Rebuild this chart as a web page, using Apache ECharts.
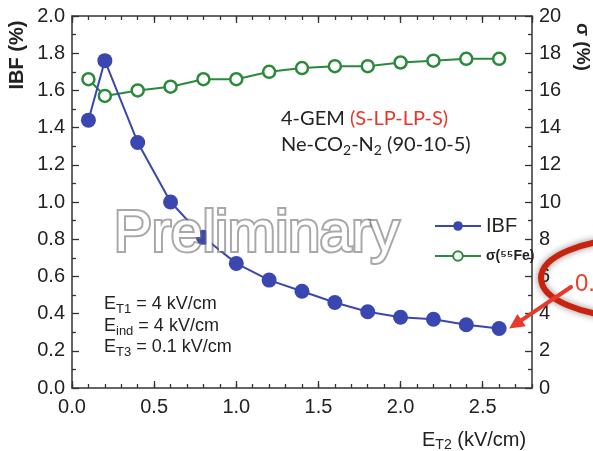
<!DOCTYPE html>
<html>
<head>
<meta charset="utf-8">
<script src="https://cdn.jsdelivr.net/npm/echarts@6/dist/echarts.min.js"></script>
<style>
  html, body { margin: 0; padding: 0; background: #fff; }
  #chart { width: 593px; height: 451px; }
</style>
</head>
<body>
<div id="chart"></div>
<script>
// Transfer field E_T2 (kV/cm)
const fieldT2 = [0.1, 0.2, 0.4, 0.6, 0.8, 1.0, 1.2, 1.4, 1.6, 1.8, 2.0, 2.2, 2.4, 2.6];
// Ion back-flow (%)
const ibf = [1.44, 1.76, 1.32, 1.00, 0.81, 0.67, 0.58, 0.52, 0.46, 0.41, 0.38, 0.37, 0.34, 0.32];
// Energy resolution sigma at the 55Fe peak (%)
const sigma = [16.6, 15.7, 16.0, 16.2, 16.6, 16.6, 17.0, 17.2, 17.3, 17.3, 17.5, 17.6, 17.7, 17.7];

// Axis ranges and tick steps
const xRange = [0, 2.8], xMajor = 0.5, xMinor = 0.1;
const ibfRange = [0, 2.0], ibfStep = 0.2;
const sigmaRange = [0, 20], sigmaStep = 2;

const BLUE = '#3a47b0';
const GREEN = '#2a8a3c';
const AXIS = '#333';
const TXT = '#222';
const SANS = '"Liberation Sans", Arial, sans-serif';

const chart = echarts.init(document.getElementById('chart'), null, { renderer: 'canvas' });

const tickLabel = { fontFamily: SANS, fontSize: 20, color: TXT };

function xAxisDef(pos, step, tickLen, withLabels, withLine) {
  return {
    type: 'value', position: pos, min: xRange[0], max: xRange[1], interval: step,
    axisLine: { show: withLine, onZero: false, lineStyle: { color: AXIS, width: 1.5 } },
    axisTick: { show: true, inside: true, length: tickLen, lineStyle: { color: AXIS, width: 1.3 } },
    axisLabel: withLabels
      ? Object.assign({ show: true, margin: 9, showMaxLabel: false, formatter: v => v.toFixed(1) }, tickLabel)
      : { show: false },
    splitLine: { show: false }
  };
}

function yAxisDef(pos, range, step, fmt) {
  return {
    type: 'value', position: pos, min: range[0], max: range[1], interval: step,
    axisLine: { show: true, onZero: false, lineStyle: { color: AXIS, width: 1.5 } },
    axisTick: { show: true, inside: true, length: 7, lineStyle: { color: AXIS, width: 1.3 } },
    minorTick: { show: true, splitNumber: 2, length: 4, lineStyle: { color: AXIS, width: 1.3 } },
    axisLabel: Object.assign({ show: true, margin: 7, formatter: fmt }, tickLabel),
    splitLine: { show: false }, minorSplitLine: { show: false }
  };
}

const sub = (size, lh) => ({ fontFamily: SANS, fontSize: size, lineHeight: lh, verticalAlign: 'bottom', fill: TXT });
const base = (size, lh) => ({ fontFamily: SANS, fontSize: size, lineHeight: lh, fill: TXT });

function fieldLabel(top, name, rest) {
  return {
    type: 'text', left: 104, top: top, z: 60,
    style: {
      text: '{e|E}{s|' + name + '}{e|' + rest + '}',
      rich: { e: base(18, 24), s: sub(13, 10) }
    }
  };
}

const CAL = 'Lato, "Open Sans", sans-serif';

const option = {
  animation: false,
  backgroundColor: '#fff',
  grid: { left: 72, right: 61, top: 16, bottom: 63, containLabel: false },
  xAxis: [
    xAxisDef('bottom', xMajor, 7, true, true),
    xAxisDef('bottom', xMinor, 4, false, false),
    xAxisDef('top', xMajor, 7, false, true),
    xAxisDef('top', xMinor, 4, false, false)
  ],
  yAxis: [
    yAxisDef('left', ibfRange, ibfStep, v => v.toFixed(1)),
    yAxisDef('right', sigmaRange, sigmaStep, v => String(v))
  ],
  legend: [
    {
      data: ['IBF'], left: 429, top: 211, orient: 'vertical',
      itemWidth: 46, itemHeight: 12, itemGap: 4,
      textStyle: { fontFamily: SANS, fontSize: 20, color: TXT }
    },
    {
      data: ['σ(⁵⁵Fe)'], left: 429, top: 244, orient: 'vertical',
      itemWidth: 46, itemHeight: 12, itemGap: 4,
      textStyle: { fontFamily: SANS, fontSize: 14, fontWeight: 'bold', color: TXT }
    }
  ],
  series: [
    {
      name: 'σ(⁵⁵Fe)', type: 'line', xAxisIndex: 0, yAxisIndex: 1,
      data: fieldT2.map((x, i) => [x, sigma[i]]),
      symbol: 'circle', symbolSize: 12,
      itemStyle: { color: '#fff', borderColor: GREEN, borderWidth: 2.5 },
      lineStyle: { color: GREEN, width: 2 },
      z: 3
    },
    {
      name: 'IBF', type: 'line', xAxisIndex: 0, yAxisIndex: 0,
      data: fieldT2.map((x, i) => [x, ibf[i]]),
      symbol: 'circle', symbolSize: 15,
      itemStyle: { color: BLUE },
      lineStyle: { color: BLUE, width: 2 },
      z: 4
    }
  ],
  graphic: [
    // left axis title
    {
      type: 'text', x: 17, y: 55, rotation: Math.PI / 2, z: 60,
      style: { text: 'IBF (%)', font: 'bold 20px ' + SANS, fill: TXT, align: 'center', verticalAlign: 'middle' }
    },
    // right axis title
    {
      type: 'text', x: 582, y: 47, rotation: -Math.PI / 2, z: 60,
      style: { text: 'σ (%)', font: 'bold 19px ' + SANS, fill: TXT, align: 'center', verticalAlign: 'middle' }
    },
    // bottom axis title
    {
      type: 'text', left: 422, top: 430, z: 60,
      style: {
        text: '{e|E}{s|T2}{e| (kV/cm)}',
        rich: { e: base(20, 24), s: sub(14, 8) }
      }
    },
    // detector description
    {
      type: 'text', left: 281, top: 109, z: 60,
      style: {
        text: '{k|4-GEM }{r|(S-LP-LP-S)}',
        rich: {
          k: { fontFamily: CAL, fontSize: 20, lineHeight: 24, fill: TXT },
          r: { fontFamily: CAL, fontSize: 20, lineHeight: 24, fill: '#e8362c' }
        }
      }
    },
    {
      type: 'text', left: 281, top: 135, z: 60,
      style: {
        text: '{k|Ne-CO}{s|2}{k|-N}{s|2}{k| (90-10-5)}',
        rich: {
          k: { fontFamily: CAL, fontSize: 20, lineHeight: 24, fill: TXT },
          s: { fontFamily: CAL, fontSize: 14, lineHeight: 10, verticalAlign: 'bottom', fill: TXT }
        }
      }
    },
    fieldLabel(295, 'T1', ' = 4 kV/cm'),
    fieldLabel(317, 'ind', ' = 4 kV/cm'),
    fieldLabel(338, 'T3', ' = 0.1 kV/cm'),
    // watermark
    {
      type: 'text', x: 114, y: 235, z: 100,
      style: {
        text: 'Preliminary', font: '57px ' + SANS, fill: '#fff',
        verticalAlign: 'middle',
        stroke: 'rgba(110,110,110,0.6)', lineWidth: 4, strokeFirst: true,
        shadowBlur: 3, shadowColor: 'rgba(0,0,0,0.5)'
      }
    }
  ]
};

chart.setOption(option);

// Callout: ring, value text and an arrow pointing at the last IBF point
const lastIdx = fieldT2.length - 1;
const tipPt = chart.convertToPixel({ xAxisIndex: 0, yAxisIndex: 0 }, [fieldT2[lastIdx], ibf[lastIdx]]);
const tip = [tipPt[0] + 10, tipPt[1]];
const tail = [571, 287];
const dx = tail[0] - tip[0], dy = tail[1] - tip[1];
const len = Math.hypot(dx, dy);
const ux = dx / len, uy = dy / len;
const headLen = 15, headHalf = 7.5;
const baseP = [tip[0] + ux * headLen, tip[1] + uy * headLen];
const ARROW = '#e8392b';

chart.setOption({
  graphic: option.graphic.concat([
    {
      type: 'ellipse', z: 200,
      shape: { cx: 634, cy: 278, rx: 93, ry: 39 },
      style: { fill: 'none', stroke: '#c8230f', lineWidth: 6, shadowBlur: 7, shadowColor: 'rgba(0,0,0,0.45)' }
    },
    {
      type: 'text', x: 575, y: 284, z: 201,
      style: { text: ibf[lastIdx].toFixed(2) + '%', font: '24px ' + SANS, fill: '#e8412c', verticalAlign: 'middle' }
    },
    {
      type: 'line', z: 201,
      shape: { x1: tail[0], y1: tail[1], x2: baseP[0], y2: baseP[1] },
      style: { stroke: ARROW, lineWidth: 4, lineCap: 'round' }
    },
    {
      type: 'polygon', z: 201,
      shape: {
        points: [
          tip,
          [baseP[0] - uy * headHalf, baseP[1] + ux * headHalf],
          [baseP[0] + uy * headHalf, baseP[1] - ux * headHalf]
        ]
      },
      style: { fill: ARROW }
    }
  ])
});
</script>
</body>
</html>
